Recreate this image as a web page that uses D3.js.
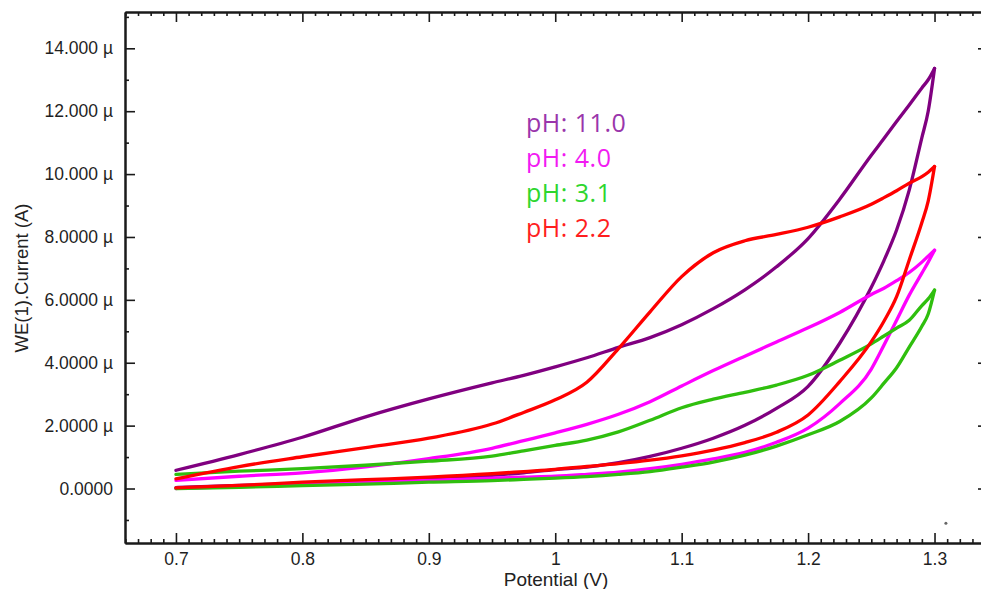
<!DOCTYPE html>
<html>
<head>
<meta charset="utf-8">
<script src="https://cdn.jsdelivr.net/npm/d3@7"></script>
<style>
  html, body { margin: 0; padding: 0; background: #fff; }
  svg { display: block; }
</style>
</head>
<body>
<svg id="chart" width="981" height="589"></svg>
<script>
// Potential grid (V) shared by every sweep branch
const potentials = [0.70, 0.75, 0.80, 0.85, 0.90, 0.95, 0.975, 1.00, 1.025, 1.05, 1.075, 1.10, 1.125,
                    1.15, 1.175, 1.20, 1.225, 1.25, 1.26, 1.27, 1.28, 1.29, 1.295, 1.30];

// Current (µA), anodic sweep 0.7 -> 1.3 V
const fwdPH110 = [0.03, 0.10, 0.17, 0.24, 0.32, 0.42, 0.50, 0.60, 0.68, 0.82, 1.02, 1.28, 1.60,
                  2.01, 2.55, 3.25, 4.62, 6.40, 7.25, 8.22, 9.49, 11.16, 12.00, 13.36];
const fwdPH40  = [0.00, 0.06, 0.12, 0.20, 0.26, 0.33, 0.36, 0.39, 0.45, 0.52, 0.63, 0.77, 0.94,
                  1.15, 1.47, 1.92, 2.70, 3.80, 4.56, 5.35, 6.15, 6.85, 7.20, 7.58];
const fwdPH31  = [0.00, 0.04, 0.09, 0.14, 0.20, 0.25, 0.29, 0.33, 0.38, 0.45, 0.54, 0.68, 0.84,
                  1.06, 1.35, 1.71, 2.13, 2.88, 3.35, 3.84, 4.50, 5.16, 5.55, 6.31];
const fwdPH22  = [0.02, 0.10, 0.20, 0.28, 0.36, 0.47, 0.54, 0.61, 0.70, 0.79, 0.90, 1.04, 1.22,
                  1.46, 1.79, 2.34, 3.40, 4.67, 5.32, 6.10, 7.27, 8.46, 9.14, 10.24];

// Current (µA), return sweep 1.3 -> 0.7 V (listed on the same ascending grid)
const revPH110 = [0.58, 1.08, 1.63, 2.28, 2.85, 3.36, 3.60, 3.87, 4.16, 4.49, 4.80, 5.21, 5.72,
                  6.32, 7.05, 7.95, 9.20, 10.60, 11.13, 11.67, 12.20, 12.74, 13.00, 13.36];
const revPH40  = [0.26, 0.39, 0.50, 0.69, 0.95, 1.28, 1.52, 1.77, 2.04, 2.36, 2.76, 3.26, 3.75,
                  4.21, 4.66, 5.11, 5.60, 6.17, 6.37, 6.61, 6.87, 7.20, 7.39, 7.58];
const revPH31  = [0.45, 0.55, 0.63, 0.74, 0.87, 1.03, 1.20, 1.37, 1.54, 1.80, 2.17, 2.57, 2.84,
                  3.06, 3.29, 3.60, 4.08, 4.60, 4.85, 5.10, 5.35, 5.82, 6.03, 6.31];
const revPH22  = [0.31, 0.70, 1.01, 1.30, 1.60, 2.05, 2.42, 2.82, 3.38, 4.45, 5.62, 6.74, 7.50,
                  7.88, 8.08, 8.31, 8.64, 9.04, 9.25, 9.47, 9.71, 9.92, 10.06, 10.24];

// Series names and colours (legend order)
const seriesNames  = ["pH: 11.0", "pH: 4.0", "pH: 3.1", "pH: 2.2"];
const seriesColors = ["#800080", "#ff00ff", "#2fbf0e", "#ff0000"];
const legendColors = ["#9a35ab", "#f21af2", "#2ed62e", "#ff1f1f"];
const forwardSweeps = [fwdPH110, fwdPH40, fwdPH31, fwdPH22];
const returnSweeps  = [revPH110, revPH40, revPH31, revPH22];

// Lone outlying sample (V, µA)
const strayPoint = [1.309, -1.107];

// Axis ticks
const xMajorTicks = [0.7, 0.8, 0.9, 1.0, 1.1, 1.2, 1.3];
const xTickLabels = ["0.7", "0.8", "0.9", "1", "1.1", "1.2", "1.3"];
const yMajorTicks = [0, 2, 4, 6, 8, 10, 12, 14];
const yTickLabels = ["0.0000", "2.0000 µ", "4.0000 µ", "6.0000 µ", "8.0000 µ", "10.000 µ", "12.000 µ", "14.000 µ"];

const svg = d3.select("#chart");
const plot = { left: 125, right: 988, top: 12, bottom: 543 };

const x = d3.scaleLinear().domain([0.6597, 1.3423]).range([plot.left, plot.right]);
const y = d3.scaleLinear().domain([-1.733, 15.155]).range([plot.bottom, plot.top]);

const xMinor = d3.range(66, 135).map(d => d / 100).filter(v => !xMajorTicks.some(m => Math.abs(m - v) < 1e-6));
const yMinor = d3.range(-1, 16, 2);

const tickFont = "'Liberation Sans', Arial, sans-serif";

function styleAxis(g) {
  g.select(".domain").attr("stroke", "#1a1a1a").attr("stroke-width", 2);
  g.selectAll(".tick line").attr("stroke", "#1a1a1a").attr("stroke-width", 1.6);
  g.selectAll(".tick text").attr("fill", "#1f1f1f").style("font-family", tickFont).style("font-size", "17.5px");
}

// Bottom axis
svg.append("g").attr("transform", `translate(0,${plot.bottom})`)
  .call(d3.axisBottom(x).tickValues(xMinor).tickSize(-4).tickSizeOuter(0).tickFormat(""))
  .call(styleAxis);
svg.append("g").attr("transform", `translate(0,${plot.bottom})`)
  .call(d3.axisBottom(x).tickValues(xMajorTicks).tickSize(-10).tickSizeOuter(0).tickPadding(10)
        .tickFormat((d, i) => xTickLabels[i]))
  .call(styleAxis);

// Top axis
svg.append("g").attr("transform", `translate(0,${plot.top})`)
  .call(d3.axisTop(x).tickValues(xMinor).tickSize(-4).tickSizeOuter(0).tickFormat(""))
  .call(styleAxis);
svg.append("g").attr("transform", `translate(0,${plot.top})`)
  .call(d3.axisTop(x).tickValues(xMajorTicks).tickSize(-10).tickSizeOuter(0).tickFormat(""))
  .call(styleAxis);

// Left axis
svg.append("g").attr("transform", `translate(${plot.left},0)`)
  .call(d3.axisLeft(y).tickValues(yMinor).tickSize(-4).tickSizeOuter(0).tickFormat(""))
  .call(styleAxis);
svg.append("g").attr("transform", `translate(${plot.left},0)`)
  .call(d3.axisLeft(y).tickValues(yMajorTicks).tickSize(-10).tickSizeOuter(0).tickPadding(12)
        .tickFormat((d, i) => yTickLabels[i]))
  .call(styleAxis);

// Right axis
svg.append("g").attr("transform", `translate(${plot.right},0)`)
  .call(d3.axisRight(y).tickValues(yMinor).tickSize(-4).tickSizeOuter(0).tickFormat(""))
  .call(styleAxis);
svg.append("g").attr("transform", `translate(${plot.right},0)`)
  .call(d3.axisRight(y).tickValues(yMajorTicks).tickSize(-10).tickSizeOuter(0).tickFormat(""))
  .call(styleAxis);

// Axis titles
svg.append("text")
  .attr("x", 556).attr("y", 586)
  .attr("text-anchor", "middle")
  .style("font-family", tickFont).style("font-size", "19px")
  .attr("fill", "#222")
  .text("Potential (V)");

svg.append("text")
  .attr("transform", "translate(28,278) rotate(-90)")
  .attr("text-anchor", "middle")
  .style("font-family", tickFont).style("font-size", "18.5px")
  .attr("fill", "#222")
  .text("WE(1).Current (A)");

// Voltammogram branches
const line = d3.line()
  .x(d => x(d[0]))
  .y(d => y(d[1]))
  .curve(d3.curveMonotoneX);

const curves = svg.append("g");
seriesNames.forEach((name, i) => {
  const branches = [
    potentials.map((v, k) => [v, forwardSweeps[i][k]]),
    potentials.map((v, k) => [v, returnSweeps[i][k]])
  ];
  branches.forEach(b => {
    curves.append("path")
      .datum(b)
      .attr("d", line)
      .attr("fill", "none")
      .attr("stroke", seriesColors[i])
      .attr("stroke-width", 3.3)
      .attr("stroke-linecap", "round")
      .attr("stroke-linejoin", "round");
  });
});

svg.append("circle")
  .attr("cx", x(strayPoint[0]))
  .attr("cy", y(strayPoint[1]))
  .attr("r", 1.5)
  .attr("fill", "#666");

// Legend
const legend = svg.append("g");
seriesNames.forEach((name, i) => {
  legend.append("text")
    .attr("x", 526)
    .attr("y", 132 + i * 35)
    .style("font-family", "'Open Sans', 'Noto Sans', sans-serif")
    .style("font-size", "25px")
    .style("letter-spacing", "0.5px")
    .attr("fill", legendColors[i])
    .text(name);
});
</script>
</body>
</html>
